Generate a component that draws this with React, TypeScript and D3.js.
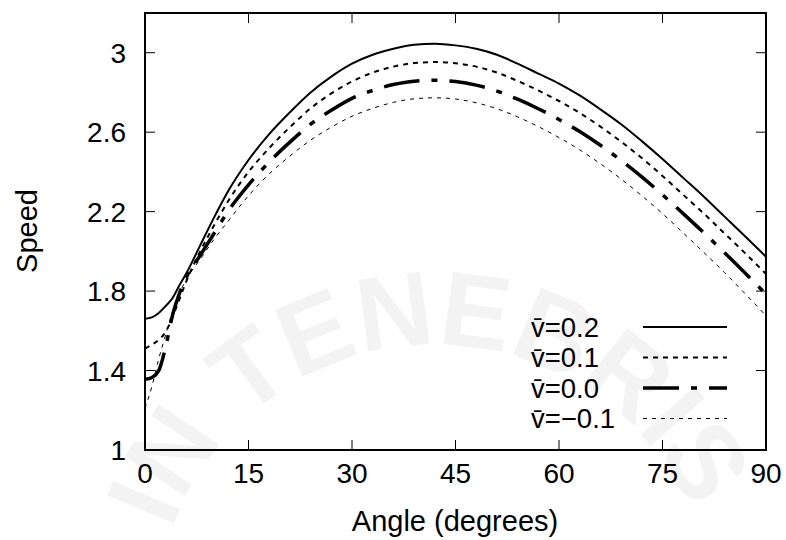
import React from 'react';
import * as d3 from 'd3';

const angles = [0, 1, 2, 3, 4, 5, 6, 8, 10, 12, 15, 18, 21, 24, 27, 30, 33, 36, 39, 42, 45, 48, 51, 54, 57, 60, 63, 66, 69, 72, 75, 78, 81, 84, 87, 90];

const speedV02 = [1.661, 1.668, 1.69, 1.725, 1.765, 1.83, 1.89, 2.03, 2.17, 2.30, 2.46, 2.59, 2.70, 2.80, 2.88, 2.945, 2.99, 3.02, 3.04, 3.045, 3.037, 3.02, 2.99, 2.945, 2.895, 2.845, 2.785, 2.715, 2.64, 2.555, 2.465, 2.37, 2.275, 2.175, 2.075, 1.973];
const speedV01 = [1.511, 1.53, 1.555, 1.595, 1.67, 1.76, 1.85, 2.0, 2.13, 2.25, 2.40, 2.52, 2.625, 2.72, 2.795, 2.855, 2.90, 2.93, 2.948, 2.953, 2.947, 2.93, 2.90, 2.858, 2.81, 2.757, 2.697, 2.628, 2.552, 2.47, 2.38, 2.285, 2.19, 2.09, 1.99, 1.886];
const speedV00 = [1.356, 1.365, 1.40, 1.52, 1.68, 1.79, 1.87, 1.98, 2.09, 2.20, 2.335, 2.45, 2.55, 2.64, 2.71, 2.77, 2.81, 2.84, 2.857, 2.861, 2.855, 2.837, 2.807, 2.766, 2.718, 2.664, 2.603, 2.534, 2.458, 2.375, 2.285, 2.19, 2.093, 1.993, 1.89, 1.785];
const speedVm01 = [1.21, 1.32, 1.46, 1.58, 1.70, 1.79, 1.86, 1.96, 2.06, 2.15, 2.28, 2.39, 2.48, 2.56, 2.625, 2.68, 2.72, 2.75, 2.768, 2.773, 2.767, 2.748, 2.718, 2.677, 2.628, 2.573, 2.511, 2.441, 2.364, 2.28, 2.19, 2.093, 1.994, 1.893, 1.786, 1.676];

const seriesLabels = ['v\u0304=0.2', 'v\u0304=0.1', 'v\u0304=0.0', 'v\u0304=\u22120.1'];
const xTicks = [0, 15, 30, 45, 60, 75, 90];
const yTicks = [1, 1.4, 1.8, 2.2, 2.6, 3];
const yTickLabels = ['1', '1.4', '1.8', '2.2', '2.6', '3'];
const xLabel = 'Angle (degrees)';
const yLabel = 'Speed';
const watermarkText = 'LUX IN TENEBRIS';

const W = 786, H = 540;
const left = 145, right = 766, top = 13, bottom = 450;
const FONT = '"Liberation Sans", Arial, Helvetica, sans-serif';

const styles = [
  { width: 2, dash: 'none' },
  { width: 2, dash: '5,5' },
  { width: 3.5, dash: '36,12,6,12' },
  { width: 1, dash: '4,5' },
];

export default function App() {
  const x = d3.scaleLinear().domain([0, 90]).range([left, right]);
  const y = d3.scaleLinear().domain([1, 3.2]).range([bottom, top]);
  const allSeries = [speedV02, speedV01, speedV00, speedVm01];
  const line = d3.line<number>()
    .x((_, i) => x(angles[i]))
    .y((d) => y(d))
    .curve(d3.curveMonotoneX);

  const cx = 435, cy = 625, r = 280;
  const circlePath = `M ${cx},${cy + r} A ${r},${r} 0 1,1 ${cx},${cy - r} A ${r},${r} 0 1,1 ${cx},${cy + r}`;

  const legendTop = 327;
  const legendStep = 30.5;

  return (
    <svg width={W} height={H} style={{ position: 'absolute', left: 0, top: 0, background: '#fff' }} fontFamily={FONT}>
      <defs>
        <clipPath id="plotClip">
          <rect x={left} y={top} width={right - left} height={bottom - top} />
        </clipPath>
        <path id="wmPath" d={circlePath} />
      </defs>
      <rect x={0} y={0} width={W} height={H} fill="#fff" />
      {/* faint watermark */}
      <text fontSize={105} fontWeight="bold" fill="#f3f3f3" fontFamily={FONT}>
        <textPath href="#wmPath" startOffset={Math.PI * r - 130} textAnchor="middle">{watermarkText}</textPath>
      </text>

      {/* ticks */}
      {xTicks.map((t) => (
        <g key={'xt' + t}>
          <line x1={x(t)} x2={x(t)} y1={bottom} y2={bottom - 10} stroke="#000" strokeWidth={1} />
          <line x1={x(t)} x2={x(t)} y1={top} y2={top + 10} stroke="#000" strokeWidth={1} />
          <text x={x(t)} y={483} textAnchor="middle" fontSize={28} fill="#000">{t}</text>
        </g>
      ))}
      {yTicks.map((t, i) => (
        <g key={'yt' + t}>
          <line x1={left} x2={left + 10} y1={y(t)} y2={y(t)} stroke="#000" strokeWidth={1} />
          <line x1={right} x2={right - 10} y1={y(t)} y2={y(t)} stroke="#000" strokeWidth={1} />
          <text x={126} y={y(t)} dy="0.36em" textAnchor="end" fontSize={28} fill="#000">{yTickLabels[i]}</text>
        </g>
      ))}

      {/* curves */}
      <g clipPath="url(#plotClip)">
        {allSeries.map((s, i) => (
          <path key={'s' + i} d={line(s) || ''} fill="none" stroke="#000"
            strokeWidth={styles[i].width} strokeDasharray={styles[i].dash} />
        ))}
      </g>

      {/* frame */}
      <rect x={left} y={top} width={right - left} height={bottom - top} fill="none" stroke="#000" strokeWidth={2} />

      {/* legend */}
      {seriesLabels.map((lab, i) => {
        const ly = legendTop + i * legendStep;
        return (
          <g key={'lg' + i}>
            <text x={531} y={ly} dy="0.36em" fontSize={27.5} fill="#000">{lab}</text>
            <line x1={643} x2={727} y1={ly} y2={ly} stroke="#000"
              strokeWidth={styles[i].width} strokeDasharray={styles[i].dash} />
          </g>
        );
      })}

      {/* axis labels */}
      <text x={455} y={531} textAnchor="middle" fontSize={29} fill="#000">{xLabel}</text>
      <text transform={`translate(37,231) rotate(-90)`} textAnchor="middle" fontSize={29} fill="#000">{yLabel}</text>
    </svg>
  );
}
